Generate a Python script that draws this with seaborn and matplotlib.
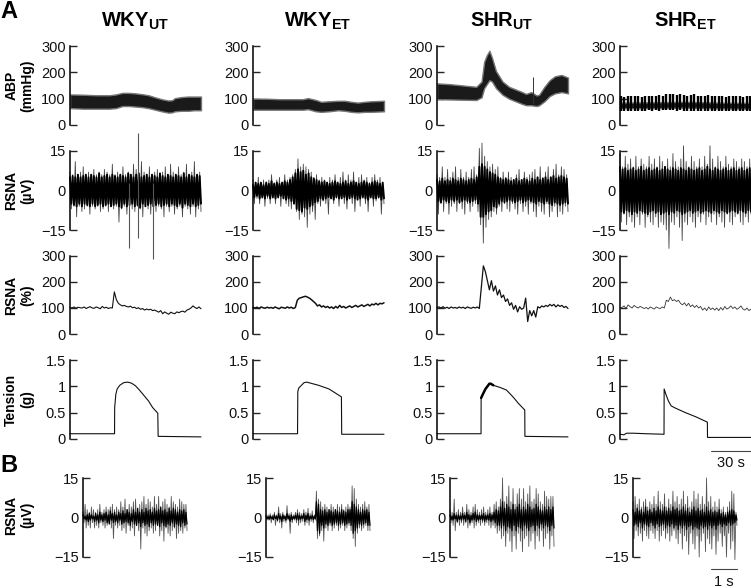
import numpy as np
import matplotlib
matplotlib.use('Agg')
import matplotlib.pyplot as plt
import seaborn as sns

sns.set_style('ticks')
plt.rcParams['font.family'] = ['Liberation Sans', 'DejaVu Sans']
plt.rcParams['mathtext.fontset'] = 'custom'
plt.rcParams['mathtext.bf'] = 'Liberation Sans:bold'
plt.rcParams['mathtext.rm'] = 'Liberation Sans'

W, H = 751, 588

titles = ['WKY', 'WKY', 'SHR', 'SHR']
subs = ['UT', 'ET', 'UT', 'ET']

# ABP envelopes (mmHg)
abp1_t = [0, 10, 20, 30, 35, 40, 45, 50, 55, 60, 65, 70, 75, 78, 80, 85, 90, 95, 100]
abp1_up = [116, 115, 113, 113, 116, 122, 122, 120, 117, 113, 105, 98, 93, 94, 102, 106, 108, 108, 108]
abp1_lo = [64, 62, 62, 62, 64, 72, 72, 70, 68, 64, 58, 52, 47, 48, 52, 54, 54, 56, 56]
abp2_t = [0, 10, 20, 30, 38, 42, 48, 52, 58, 65, 70, 75, 80, 85, 90, 100]
abp2_up = [100, 100, 98, 98, 98, 102, 95, 88, 90, 92, 92, 88, 85, 88, 90, 92]
abp2_lo = [58, 58, 58, 58, 58, 60, 52, 50, 52, 56, 54, 50, 48, 50, 50, 52]
abp3_t = [0, 10, 20, 30, 34, 36, 38, 40, 42, 45, 50, 55, 60, 65, 68, 72, 76, 78, 82, 86, 90, 95, 100]
abp3_up = [158, 155, 150, 145, 165, 240, 265, 282, 255, 205, 165, 145, 135, 125, 118, 125, 112, 115, 145, 170, 185, 190, 180]
abp3_lo = [98, 97, 96, 95, 105, 140, 155, 170, 165, 140, 115, 100, 90, 80, 75, 75, 72, 75, 90, 110, 120, 125, 120]
abp3_spike_t = [73.5]
abp3_spike_lo = [85]
abp3_spike_up = [182]
abp4_t = [0, 25, 50, 75, 100]
abp4_up = [85, 86, 88, 85, 84]
abp4_lo = [64, 64, 66, 63, 62]
abp4_peaks = [112, 108, 110, 109, 112, 110, 108, 111, 110, 112, 109, 114, 112, 117, 116, 118, 114, 116, 114, 112, 114, 116, 112, 110, 112, 114, 110, 112, 110, 112, 108, 110, 112, 109, 110, 108, 110, 109]
abp4_troughs = [55, 52, 54, 52, 55, 53, 52, 54, 56, 54, 56, 54, 58, 56, 58, 56, 55, 56, 55, 54, 55, 54, 52, 55, 53, 54, 52, 54, 52, 54, 55, 52, 54, 52, 54, 52, 53, 52]

# RSNA raw traces (uV): outer spikes and the dense inner part
r1_up = [7, 6, 11, 6, 7, 9, 6, 7, 6, 8, 6, 7, 6, 8, 7, 6, 10, 6, 7, 6, 9, 6, 7, 6, 10, 8, 6, 11, 7, 6, 9, 6, 7, 8, 6, 7, 9, 6, 10, 7, 6, 9, 6, 7, 10, 6, 7, 11, 6, 7]
r1_lo = [-7, -6, -10, -6, -8, -7, -6, -9, -6, -7, -6, -8, -7, -6, -8, -6, -7, -6, -12, -7, -6, -9, -6, -7, -8, -6, -7, -10, -6, -7, -9, -6, -8, -6, -7, -10, -6, -8, -6, -9, -7, -6, -10, -6, -7, -9, -6, -10, -7, -8]
r1_in_up = [5, 5.5, 5, 6, 5, 5.5, 6, 5, 6, 5.5, 5, 6.5, 5, 5.5, 6, 5, 6, 5.5, 5, 6, 5.5, 5, 6.5, 6, 5, 6, 6.5, 5, 5.5, 6, 5, 6, 5.5, 5, 6.5, 5.5, 5, 6, 5.5, 5, 6, 5.5, 5, 6.5, 5, 6, 5.5, 5, 6, 5.5]
r1_in_lo = [-5, -5.5, -6, -5, -6, -5, -5.5, -6, -5, -6, -5.5, -5, -6, -5.5, -5, -6, -5.5, -5, -6, -6.5, -5, -6, -5.5, -5, -6, -5.5, -6.5, -5, -6, -5.5, -5, -6, -5.5, -5, -6, -5.5, -5, -6, -5, -5.5, -6, -5, -6.5, -5, -5.5, -6, -5, -6, -5.5, -5]
r1_spike_t = [45, 52, 63]
r1_spike_up = [3, 22, 3]
r1_spike_lo = [-22, -18, -26]
r2_up = [4, 3, 5, 3, 4, 3, 4, 6, 3, 4, 5, 3, 6, 4, 5, 6, 8, 12, 9, 10, 9, 8, 7, 5, 6, 4, 5, 4, 3, 5, 4, 6, 3, 5, 7, 4, 6, 4, 7, 3, 5, 6, 4, 5, 3, 5, 6, 4, 5, 3]
r2_lo = [-5, -3, -5, -3, -6, -3, -5, -3, -5, -3, -6, -3, -5, -6, -7, -5, -8, -11, -9, -10, -14, -9, -8, -11, -5, -6, -4, -5, -9, -3, -5, -3, -6, -3, -5, -7, -3, -5, -8, -3, -6, -3, -5, -8, -3, -6, -4, -3, -9, -5]
r2_in_up = [2, 3, 2.5, 3, 2, 3, 2.5, 3.5, 2.5, 3, 2.5, 3, 3.5, 3, 4, 5, 6.5, 8, 7, 7.5, 6, 6.5, 5, 4.5, 4, 3.5, 3, 3.5, 3, 2.5, 3, 3.5, 3, 2.5, 3, 3.5, 2.5, 3, 3.5, 3, 2.5, 3, 3.5, 3, 2.5, 3, 3.5, 3, 2.5, 3]
r2_in_lo = [-2.5, -2, -3, -2.5, -3, -2, -3, -2.5, -3, -2.5, -2, -3, -3.5, -3, -4, -5, -7, -7.5, -8, -6.5, -7, -6, -5.5, -4.5, -4, -3, -3.5, -3, -2.5, -3, -3.5, -2.5, -3, -3, -2.5, -3.5, -3, -2.5, -3, -3.5, -3, -2.5, -3, -3.5, -2.5, -3, -3, -2.5, -3.5, -3]
r3_up = [6, 5, 9, 5, 8, 5, 7, 9, 5, 8, 5, 7, 5, 8, 9, 6, 16, 18, 13, 11, 9, 10, 8, 9, 5, 7, 5, 7, 5, 4, 6, 8, 4, 7, 5, 6, 7, 8, 5, 9, 5, 7, 9, 5, 8, 10, 6, 9, 8, 6]
r3_lo = [-9, -5, -8, -5, -9, -6, -5, -8, -5, -7, -9, -5, -8, -6, -5, -8, -13, -20, -14, -11, -10, -8, -9, -6, -8, -5, -7, -8, -5, -7, -9, -5, -8, -6, -9, -5, -8, -10, -6, -8, -9, -5, -10, -8, -6, -10, -8, -9, -6, -8]
r3_in_up = [4, 3.5, 4.5, 3.5, 4, 3.5, 4.5, 4, 3.5, 4.5, 4, 3.5, 4, 4.5, 4, 5, 9, 10, 9, 8, 7, 6.5, 6, 5, 4.5, 4, 4.5, 4, 3.5, 4, 4.5, 3.5, 4, 4.5, 4, 3.5, 4.5, 4, 5, 4, 4.5, 5, 4, 5, 5.5, 4.5, 5, 5.5, 5, 4.5]
r3_in_lo = [-4, -4.5, -3.5, -4, -4.5, -3.5, -4, -3.5, -4.5, -4, -3.5, -4, -4.5, -4, -3.5, -5, -10, -10, -9, -8, -7.5, -6, -6.5, -5, -4, -4.5, -4, -3.5, -4, -4.5, -4, -3.5, -4.5, -4, -3.5, -4, -4.5, -5, -4, -4.5, -5, -4, -5, -5.5, -4.5, -5, -5.5, -5, -4.5, -5]
r4_up = [14, 9, 13, 10, 12, 9, 13, 9, 12, 10, 9, 13, 10, 12, 9, 13, 11, 9, 12, 9, 14, 11, 9, 12, 17, 11, 9, 13, 11, 9, 12, 9, 13, 10, 17, 12, 9, 13, 11, 9, 13, 10, 9, 12, 11, 9, 12, 11, 9, 12]
r4_lo = [-12, -9, -13, -10, -12, -14, -10, -13, -9, -14, -10, -12, -13, -10, -14, -12, -13, -15, -22, -12, -13, -10, -14, -19, -12, -13, -10, -12, -14, -10, -12, -9, -13, -10, -12, -9, -13, -10, -12, -14, -9, -12, -13, -10, -9, -12, -13, -10, -12, -9]
r4_in_up = [9, 8, 8.5, 7.5, 8, 8.5, 7.5, 8, 9, 7.5, 8, 8.5, 7.5, 8, 8.5, 7.5, 8, 9, 8, 7.5, 8.5, 8, 7.5, 8.5, 8, 7.5, 8.5, 8, 7.5, 8, 8.5, 7.5, 8, 9, 8, 7.5, 8.5, 8, 7.5, 8, 8.5, 7.5, 8, 8.5, 7.5, 8, 8.5, 7.5, 8, 8.5]
r4_in_lo = [-8, -8.5, -7.5, -8, -9, -8, -8.5, -7.5, -8, -8.5, -9, -8, -7.5, -8.5, -8, -9, -8.5, -8, -9, -8, -8.5, -7.5, -8, -9, -8.5, -8, -7.5, -8.5, -8, -7.5, -8.5, -8, -7.5, -8, -8.5, -7.5, -8, -8.5, -7.5, -8, -8.5, -8, -7.5, -8, -8.5, -7.5, -8, -8.5, -7.5, -8]

# RSNA normalised (%)
pct1 = [102, 100, 104, 99, 103, 101, 100, 104, 98, 102, 105, 100, 99, 104, 101, 97, 106, 100, 103, 98, 101, 100, 162, 132, 118, 112, 108, 110, 106, 104, 107, 101, 103, 98, 101, 95, 98, 92, 96, 93, 95, 90, 92, 88, 84, 90, 78, 85, 80, 76, 84, 80, 78, 85, 82, 86, 88, 84, 92, 95, 100, 108, 102, 98, 104, 97]
pct2 = [102, 100, 103, 98, 104, 101, 99, 103, 100, 102, 99, 104, 100, 97, 103, 101, 99, 104, 100, 103, 98, 102, 130, 138, 140, 143, 145, 142, 138, 132, 125, 118, 108, 112, 104, 108, 102, 106, 100, 104, 98, 106, 100, 110, 102, 106, 100, 104, 108, 102, 106, 110, 104, 108, 112, 106, 110, 114, 108, 115, 112, 118, 112, 118, 116, 120]
pct3 = [102, 104, 100, 105, 99, 103, 98, 104, 100, 102, 99, 104, 100, 103, 98, 104, 101, 99, 103, 100, 104, 98, 180, 262, 240, 205, 170, 205, 165, 185, 150, 170, 140, 150, 125, 135, 110, 120, 95, 110, 85, 105, 95, 100, 138, 48, 90, 70, 90, 65, 105, 100, 108, 104, 110, 106, 114, 108, 114, 104, 112, 106, 110, 102, 106, 98]
pct4 = [100, 102, 108, 98, 112, 105, 100, 110, 104, 100, 106, 102, 98, 102, 96, 104, 100, 96, 104, 100, 98, 104, 100, 130, 125, 142, 128, 132, 125, 130, 118, 112, 120, 108, 118, 105, 112, 102, 110, 100, 106, 92, 100, 90, 104, 94, 100, 92, 100, 90, 102, 92, 106, 96, 100, 108, 98, 104, 95, 100, 108, 96, 92, 100, 90, 96]

# Tension (g)
ten1_t = [0, 34, 34.1, 35, 36, 38, 41, 44, 47, 50, 53, 56, 60, 63, 67, 67.3, 100]
ten1 = [0.1, 0.1, 0.6, 0.85, 0.95, 1.02, 1.07, 1.08, 1.06, 1.01, 0.93, 0.84, 0.72, 0.6, 0.49, 0.05, 0.04]
ten2_t = [0, 34, 34.2, 35, 37, 39, 41, 50, 58, 67.5, 67.7, 100]
ten2 = [0.1, 0.1, 0.9, 0.97, 1.02, 1.07, 1.08, 1.02, 0.95, 0.8, 0.09, 0.09]
ten3_t = [0, 33.6, 33.7, 35, 37, 40, 41, 43, 48, 53, 58, 62, 67, 67.1, 100]
ten3 = [0.1, 0.1, 0.78, 0.85, 0.95, 1.05, 1.05, 1.02, 0.98, 0.93, 0.8, 0.68, 0.55, 0.05, 0.04]
ten3_thick_t = [33.7, 35, 37, 40, 41, 43]
ten3_thick = [0.78, 0.85, 0.95, 1.05, 1.05, 1.02]
ten4_t = [0, 3, 5, 10, 20, 33.6, 33.7, 35, 37, 39, 42, 50, 58, 66.7, 66.8, 100]
ten4 = [0.09, 0.08, 0.11, 0.11, 0.1, 0.09, 0.95, 0.85, 0.72, 0.63, 0.59, 0.5, 0.42, 0.32, 0.03, 0.03]

# Panel B, short RSNA traces (uV)
b1_up = [2, 5, 3, 2, 4, 3, 2, 3, 5, 2, 3, 4, 3, 4, 5, 3, 4, 3, 6, 4, 7, 3, 5, 4, 6, 7, 3, 5, 6, 8, 5, 7, 6, 4, 8, 5, 8, 3, 6, 7, 5, 4, 8, 6, 5, 4, 7, 6, 5, 5]
b1_lo = [-2, -4, -3, -4, -2, -4, -3, -4, -2, -3, -4, -3, -2, -4, -8, -3, -4, -3, -5, -4, -6, -3, -5, -4, -7, -3, -5, -12, -4, -6, -7, -5, -4, -6, -5, -3, -7, -5, -9, -4, -6, -7, -5, -4, -8, -6, -5, -6, -4, -5]
b1_in_up = [1, 0.5, 1, 1.5, 1, 0.5, 1.5, 1, 2, 1, 1.5, 2, 1, 2.5, 1.5, 2, 1, 2, 1.5, 2.5, 1.5, 3, 2, 1.5, 3, 2, 3.5, 2, 3, 2, 3.5, 2.5, 3, 2, 3.5, 2.5, 3, 4, 2.5, 3, 2, 3.5, 2.5, 3.5, 3, 2, 3, 2.5, 3, 2]
b1_in_lo = [-0.5, -1, -1.5, -1, -0.5, -1.5, -1, -2, -1, -1.5, -1, -2, -2.5, -1, -2, -1.5, -2, -1, -2.5, -2, -1.5, -2, -3, -1.5, -2.5, -3, -2, -3.5, -2, -3, -2.5, -3.5, -2, -3, -2.5, -3, -3.5, -2, -3, -3.5, -2.5, -3, -2, -3.5, -2.5, -3, -3.5, -2, -3, -2.5]
b2_up = [1, 1, 1.5, 1, 2, 1, 4, 1.5, 2, 1, 4.5, 1.5, 2, 1, 2, 3, 2, 1.5, 3, 2, 3.5, 1.5, 2.5, 1, 10, 7, 6, 4, 5, 4, 3, 5, 4, 3, 5, 4, 5, 3, 4, 5, 4, 12, 11, 7, 5, 4, 5, 6, 4, 5]
b2_lo = [-1, -1, -2, -1, -3, -1.5, -2, -4, -1.5, -2, -1, -6, -2, -1, -2, -3, -2, -1.5, -3, -2, -3, -1.5, -2, -1, -8, -7, -5, -9, -4, -5, -3, -5, -4, -3, -5, -4, -3, -5, -4, -3, -5, -8, -11, -6, -4, -5, -4, -3, -5, -5]
b2_in_up = [0.4, 0.3, 0.6, 0.3, 1, 0.4, 1.5, 0.5, 1, 0.4, 1.5, 0.6, 1, 0.4, 0.8, 1.5, 0.8, 0.5, 1.5, 0.8, 1.5, 0.5, 0.8, 0.5, 6, 5, 3, 2.5, 3, 2, 3, 2.5, 2, 3, 2.5, 2, 3, 2.5, 2, 3, 3, 6, 5, 4, 3, 2, 3, 2.5, 3, 2]
b2_in_lo = [-0.4, -0.6, -0.3, -0.8, -0.4, -1, -0.5, -1.5, -0.4, -1, -0.5, -1.5, -0.8, -0.4, -0.8, -1, -0.6, -0.4, -1.5, -0.8, -1, -0.5, -0.8, -0.4, -5, -6, -3, -4, -2.5, -3, -2, -3, -2.5, -2, -3, -2.5, -2, -3, -2.5, -2, -3, -6, -5, -4, -2.5, -3, -2.5, -2, -3, -3]
b3_up = [3, 2, 7, 2, 3, 2, 4, 2, 5, 3, 2, 4, 5, 3, 2, 3, 4, 2, 3, 4, 2, 5, 6, 4, 7, 15, 6, 8, 12, 6, 11, 5, 9, 11, 7, 11, 6, 9, 12, 6, 7, 11, 9, 6, 5, 10, 8, 7, 8, 8]
b3_lo = [-2, -3, -5, -2, -3, -2, -3, -2, -4, -3, -2, -4, -3, -2, -3, -2, -3, -2, -3, -4, -3, -4, -6, -5, -8, -7, -11, -6, -9, -13, -7, -12, -6, -9, -13, -8, -7, -11, -9, -6, -12, -7, -9, -5, -11, -8, -6, -12, -7, -11]
b3_in_up = [1, 0.5, 1.5, 0.7, 1, 0.6, 1.5, 0.8, 2, 1, 0.8, 1.5, 2, 1, 0.8, 1, 1.5, 0.8, 1, 1.5, 1, 2, 3, 2.5, 4, 6, 3.5, 5, 4, 3, 5, 3, 4, 5, 3, 4, 3, 5, 4, 3, 3.5, 5, 4, 3, 2.5, 4, 3, 4, 3, 4]
b3_in_lo = [-0.8, -1, -0.5, -1.5, -0.7, -1, -0.6, -1.5, -0.8, -2, -1, -0.8, -1.5, -1, -0.8, -1, -1.5, -0.8, -1, -1.5, -1, -2, -3, -3, -4, -3, -5, -3.5, -4, -5, -3, -5, -3.5, -4, -5, -3, -4, -5, -3.5, -3, -5, -3, -4, -2.5, -4, -3, -3.5, -5, -3, -4]
b4_up = [6, 8, 5, 7, 4, 6, 7, 4, 6, 5, 8, 5, 10, 6, 5, 9, 4, 7, 5, 10, 6, 8, 5, 7, 10, 5, 8, 4, 6, 10, 7, 9, 5, 8, 5, 15, 6, 8, 4, 6, 4, 7, 3, 4, 2, 4, 6, 10, 9, 2]
b4_lo = [-8, -5, -7, -6, -9, -5, -7, -8, -5, -6, -8, -5, -9, -7, -5, -8, -6, -9, -7, -5, -8, -10, -6, -12, -7, -9, -14, -6, -10, -12, -7, -15, -9, -6, -13, -8, -10, -12, -7, -14, -9, -6, -11, -7, -15, -6, -12, -9, -16, -3]
b4_in_up = [3, 2, 3.5, 2.5, 3, 2, 4, 2.5, 3, 2, 3.5, 2.5, 4, 3, 2.5, 4, 2.5, 3.5, 2.5, 4, 3, 3.5, 2.5, 3, 4, 2.5, 3.5, 2, 3, 4, 2.5, 3.5, 2.5, 3, 2, 4, 2.5, 3, 2, 2.5, 2, 3, 1.5, 2, 1, 2, 2.5, 3, 2.5, 1]
b4_in_lo = [-3, -2.5, -3.5, -2, -4, -2.5, -3, -3.5, -2, -3, -4, -2.5, -3.5, -3, -2.5, -4, -3, -3.5, -2.5, -4, -3, -4.5, -3, -4, -3, -4.5, -3.5, -3, -4.5, -3.5, -4, -4.5, -3, -4, -3.5, -4.5, -3, -4, -3, -4.5, -3, -2.5, -3.5, -2.5, -3, -2, -3, -2.5, -2, -1]

col_x = [70, 253, 437, 620]
col_b = [83, 266, 450, 633]
rows = [(46, 125), (151, 230), (256, 334), (360, 439)]
row_b = (478, 557)


def make_axes(fig, x0, width, top, bottom, ylim, ticks, labels):
    ax = fig.add_axes([x0 / W, 1 - bottom / H, width / W, (bottom - top) / H])
    ax.set_xlim(0, 100)
    ax.set_ylim(*ylim)
    ax.set_xticks([])
    ax.set_yticks(ticks)
    ax.set_yticklabels(labels, fontsize=10.5, color='#111111')
    ax.tick_params(axis='y', direction='in', length=5, width=1, pad=3)
    ax.patch.set_alpha(0)
    sns.despine(ax=ax, bottom=True)
    ax.spines['left'].set_linewidth(1.1)
    ax.spines['left'].set_color('black')
    return ax


def draw_line(ax, x, y, lw=0.7, color='#222222'):
    sns.lineplot(x=np.asarray(x), y=np.asarray(y), ax=ax, color=color, lw=lw,
                 estimator=None, sort=False, clip_on=False)


def draw_zigzag(ax, up, lo, lw, color):
    zig = [v for pair in zip(up, lo) for v in pair]
    draw_line(ax, np.linspace(0, 100, len(zig)), zig, lw=lw, color=color)


def draw_band(ax, t, up, lo):
    ax.fill_between(t, lo, up, facecolor='#1a1a1a', lw=1.0, edgecolor='#777777', clip_on=False)


fig = plt.figure(figsize=(W / 100, H / 100), dpi=100)

abp_data = [(abp1_t, abp1_up, abp1_lo), (abp2_t, abp2_up, abp2_lo), (abp3_t, abp3_up, abp3_lo), (abp4_t, abp4_up, abp4_lo)]
rsna_data = [(r1_up, r1_lo, r1_in_up, r1_in_lo), (r2_up, r2_lo, r2_in_up, r2_in_lo),
             (r3_up, r3_lo, r3_in_up, r3_in_lo), (r4_up, r4_lo, r4_in_up, r4_in_lo)]
pct_data = [(pct1, 0.8, '#111111'), (pct2, 1.1, '#111111'), (pct3, 0.9, '#111111'), (pct4, 0.6, '#333333')]
ten_data = [(ten1_t, ten1), (ten2_t, ten2), (ten3_t, ten3), (ten4_t, ten4)]
b_data = [(b1_up, b1_lo, b1_in_up, b1_in_lo), (b2_up, b2_lo, b2_in_up, b2_in_lo),
          (b3_up, b3_lo, b3_in_up, b3_in_lo), (b4_up, b4_lo, b4_in_up, b4_in_lo)]

for i, x0 in enumerate(col_x):
    width = 131

    # ABP
    ax = make_axes(fig, x0, width, *rows[0], (0, 300), [0, 100, 200, 300], ['0', '100', '200', '300'])
    draw_band(ax, *abp_data[i])
    if i == 2:
        ax.vlines(abp3_spike_t, abp3_spike_lo, abp3_spike_up, color='#333333', lw=0.7)
    if i == 3:
        ax.vlines(np.linspace(0.5, 99.5, len(abp4_peaks)), abp4_troughs, abp4_peaks, color='black', lw=1.7, clip_on=False)

    # RSNA raw
    ax = make_axes(fig, x0, width, *rows[1], (-15, 15), [-15, 0, 15], ['\u221215', '0', '15'])
    up, lo, in_up, in_lo = rsna_data[i]
    draw_zigzag(ax, up, lo, 0.6, '#444444')
    draw_zigzag(ax, in_up, in_lo, 1.4, 'black')
    if i == 0:
        ax.vlines(r1_spike_t, r1_spike_lo, r1_spike_up, color='#555555', lw=0.8, clip_on=False)

    # RSNA %
    ax = make_axes(fig, x0, width, *rows[2], (0, 300), [0, 100, 200, 300], ['0', '100', '200', '300'])
    y, lw, c = pct_data[i]
    draw_line(ax, np.linspace(0, 100, len(y)), y, lw=lw, color=c)

    # tension
    ax = make_axes(fig, x0, width, *rows[3], (0, 1.5), [0, 0.5, 1, 1.5], ['0', '0.5', '1', '1.5'])
    draw_line(ax, ten_data[i][0], ten_data[i][1], lw=0.8, color='#111111')
    if i == 2:
        draw_line(ax, ten3_thick_t, ten3_thick, lw=1.8, color='black')

    # panel B
    ax = make_axes(fig, col_b[i], 104, *row_b, (-15, 15), [-15, 0, 15], ['\u221215', '0', '15'])
    up, lo, in_up, in_lo = b_data[i]
    draw_zigzag(ax, up, lo, 0.6, '#555555')
    draw_zigzag(ax, in_up, in_lo, 0.9, 'black')

    fig.text((x0 + 65) / W, 1 - 21 / H, rf'$\mathbf{{{titles[i]}_{{{subs[i]}}}}}$', fontsize=14.5,
             ha='center', va='center', color='black')

# row labels
row_labels = ['ABP\n(mmHg)', 'RSNA\n(\u00b5V)', 'RSNA\n(%)', 'Tension\n(g)']
for (top, bottom), lab in zip(rows, row_labels):
    fig.text(19 / W, 1 - (top + bottom) / 2 / H, lab, rotation=90, ha='center', va='center',
             fontsize=10, fontweight='bold', linespacing=1.15, color='black')
fig.text(19 / W, 1 - 515 / H, 'RSNA\n(\u00b5V)', rotation=90, ha='center', va='center',
         fontsize=10, fontweight='bold', linespacing=1.15, color='black')

fig.text(0 / W, 1 - 11 / H, 'A', fontsize=17, fontweight='bold', ha='left', va='center', color='black')
fig.text(0 / W, 1 - 466 / H, 'B', fontsize=17, fontweight='bold', ha='left', va='center', color='black')

# scale bars
for x1, x2, y in [(711, 751, 451), (711, 737, 569)]:
    fig.add_artist(plt.Line2D([x1 / W, x2 / W], [1 - y / H, 1 - y / H], color='#444444', lw=0.8))
fig.text(731 / W, 1 - 463 / H, '30 s', fontsize=10.5, ha='center', va='center', color='#111111')
fig.text(724 / W, 1 - 582 / H, '1 s', fontsize=10.5, ha='center', va='center', color='#111111')

fig.savefig('out.png', dpi=100)
